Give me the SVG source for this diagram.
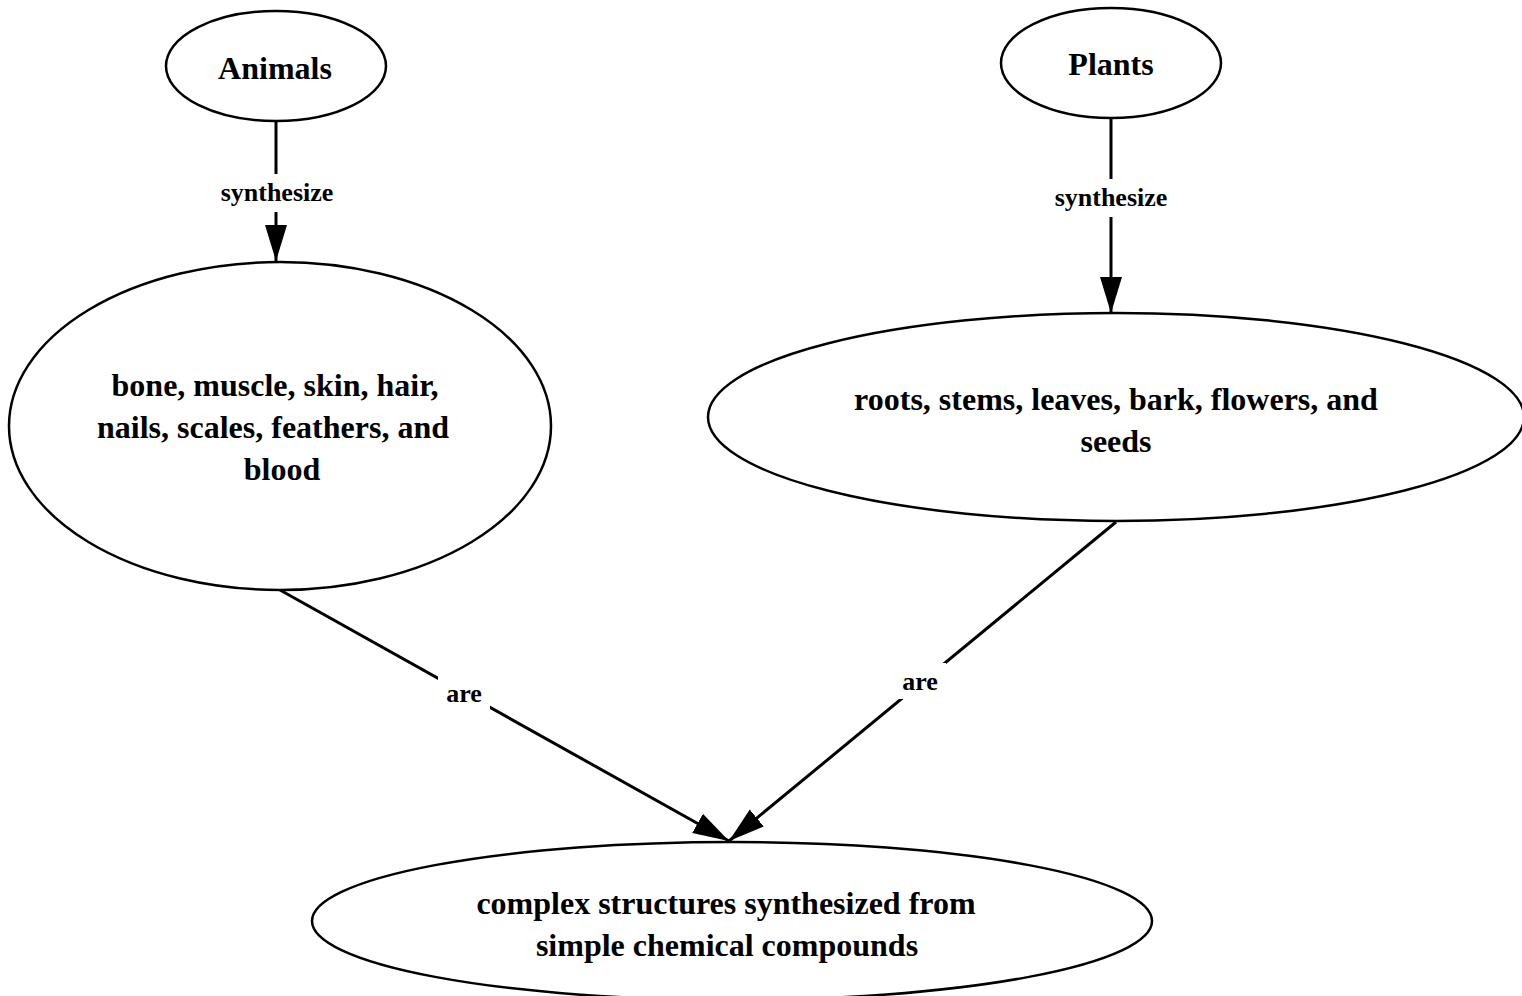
<svg xmlns="http://www.w3.org/2000/svg" width="1522" height="996" viewBox="0 0 1522 996">
  <style>
    .node ellipse { fill: #ffffff; stroke: #000000; stroke-width: 2.5; }
    .node text { font-family: "Liberation Serif", "Times New Roman", serif; font-weight: bold; font-size: 32px; text-anchor: middle; fill: #000000; }
    .edge line { stroke: #000000; stroke-width: 3; }
    .lbl-bg { fill: #ffffff; }
    .lbl { font-family: "Liberation Serif", "Times New Roman", serif; font-weight: bold; font-size: 26px; text-anchor: middle; fill: #000000; }
  </style>
  <defs>
    <marker id="arrow" markerUnits="userSpaceOnUse" markerWidth="40" markerHeight="24" refX="36" refY="11" orient="auto">
      <path d="M0,0 L36,11 L0,22 Z" fill="#000000"/>
    </marker>
  </defs>
  <rect width="1522" height="996" fill="#ffffff"/>

  <g id="connectors">
    <g class="edge" id="e-animals-synth">
      <line x1="276" y1="121" x2="276" y2="261" marker-end="url(#arrow)"/>
      <rect class="lbl-bg" x="210" y="174" width="134" height="38"/>
      <text class="lbl" x="277" y="201">synthesize</text>
    </g>
    <g class="edge" id="e-plants-synth">
      <line x1="1111" y1="118" x2="1111" y2="313" marker-end="url(#arrow)"/>
      <rect class="lbl-bg" x="1044" y="179" width="134" height="38"/>
      <text class="lbl" x="1111" y="206">synthesize</text>
    </g>
    <g class="edge" id="e-animal-parts-are">
      <line x1="280" y1="590" x2="729" y2="841" marker-end="url(#arrow)"/>
      <rect class="lbl-bg" x="438" y="675" width="52" height="36"/>
      <text class="lbl" x="464" y="702">are</text>
    </g>
    <g class="edge" id="e-plant-parts-are">
      <line x1="1116" y1="522" x2="729" y2="841" marker-end="url(#arrow)"/>
      <rect class="lbl-bg" x="894" y="663" width="52" height="36"/>
      <text class="lbl" x="920" y="690">are</text>
    </g>
  </g>

  <g id="animals" class="node">
    <ellipse cx="276" cy="66" rx="110" ry="55"/>
    <text x="275" y="79">Animals</text>
  </g>

  <g id="plants" class="node">
    <ellipse cx="1111" cy="63" rx="110" ry="55"/>
    <text x="1111" y="75">Plants</text>
  </g>

  <g id="animal-parts" class="node">
    <ellipse cx="280" cy="426" rx="271" ry="164"/>
    <text x="275" y="396">bone, muscle, skin, hair,</text>
    <text x="273" y="438">nails, scales, feathers, and</text>
    <text x="282" y="480">blood</text>
  </g>

  <g id="plant-parts" class="node">
    <ellipse cx="1116" cy="417" rx="408" ry="104"/>
    <text x="1116" y="410">roots, stems, leaves, bark, flowers, and</text>
    <text x="1116" y="452">seeds</text>
  </g>

  <g id="complex-structures" class="node">
    <ellipse cx="732" cy="921" rx="420" ry="79"/>
    <text x="726" y="914">complex structures synthesized from</text>
    <text x="727" y="956">simple chemical compounds</text>
  </g>
</svg>
